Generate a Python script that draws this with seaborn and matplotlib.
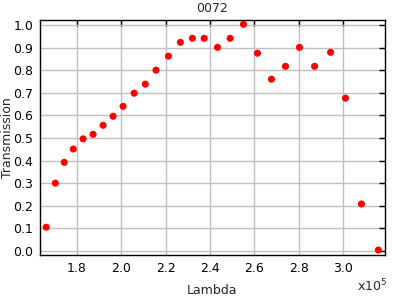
import matplotlib
matplotlib.use("Agg")
import matplotlib.pyplot as plt
import seaborn as sns
import pandas as pd
from matplotlib.ticker import FuncFormatter, MultipleLocator

lam = [166300, 170400, 174400, 178500, 182900, 187400, 191900, 196400, 200900,
       205900, 210900, 215700, 221300, 226700, 232100, 237400, 243400, 249100,
       255100, 261400, 267700, 274000, 280300, 287100, 294300, 301000, 308200, 315800]
trans = [0.105, 0.300, 0.392, 0.451, 0.496, 0.516, 0.556, 0.596, 0.640,
         0.698, 0.738, 0.800, 0.862, 0.923, 0.941, 0.941, 0.901, 0.941,
         1.003, 0.875, 0.760, 0.817, 0.901, 0.817, 0.879, 0.676, 0.208, 0.004]

df = pd.DataFrame({"Lambda": lam, "Transmission": trans})

sns.set_style("white")
plt.rcParams["font.family"] = ["DejaVu Sans"]
fig = plt.figure(figsize=(4, 3), dpi=100)
ax = fig.add_axes([0.1, 0.15, 0.8625, 0.7833])
sns.scatterplot(data=df, x="Lambda", y="Transmission", ax=ax, color="#ff0000",
                s=26, edgecolor="none", linewidth=0, zorder=3)

ax.set_xlim(163500, 318800)
ax.set_ylim(-0.018, 1.022)
ax.xaxis.set_major_locator(MultipleLocator(20000))
ax.yaxis.set_major_locator(MultipleLocator(0.1))
ax.xaxis.set_major_formatter(FuncFormatter(lambda v, p: f"{v/1e5:.1f}"))
ax.yaxis.set_major_formatter(FuncFormatter(lambda v, p: f"{v:.1f}"))
ax.grid(True, color="#c0c0c0", linewidth=1)
ax.set_axisbelow(True)
for s in ax.spines.values():
    s.set_color("black")
    s.set_linewidth(1)
ax.tick_params(direction="in", length=4, width=1, top=True, right=True,
               labelsize=9, colors="black", pad=5)
ax.set_xlabel("Lambda", fontsize=9)
ax.set_ylabel("Transmission", fontsize=9)
ax.xaxis.set_label_coords(0.5, -0.15)
ax.yaxis.set_label_coords(-0.095, 0.5)
ax.xaxis.label.set_va("center")
ax.yaxis.label.set_va("center")
ax.set_title("0072", fontsize=9, pad=6)
fig.text(0.892, 0.018, r"x10$^5$", fontsize=9, ha="left", va="bottom")
fig.savefig("out.png", dpi=100)
